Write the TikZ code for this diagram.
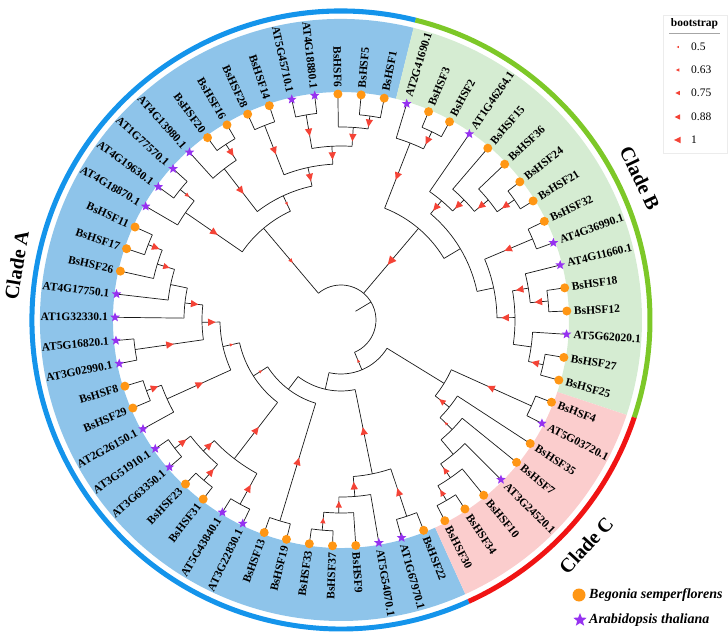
\documentclass[tikz,border=0pt]{standalone}
\usepackage{fontspec}
\setmainfont{Liberation Serif}
\usetikzlibrary{shapes.geometric}
\definecolor{shA}{RGB}{142,196,234}
\definecolor{shB}{RGB}{213,236,210}
\definecolor{shC}{RGB}{251,205,205}
\definecolor{rgA}{RGB}{20,148,235}
\definecolor{rgB}{RGB}{125,200,40}
\definecolor{rgC}{RGB}{240,20,20}
\definecolor{trired}{RGB}{244,67,54}
\definecolor{dotor}{RGB}{255,150,20}
\definecolor{stpur}{RGB}{150,50,240}
\tikzset{
  branch/.style={line width=0.7pt, draw=black!90},
  tri/.style={fill=trired},
  lab/.style={font=\fontsize{11.5}{12}\selectfont\bfseries, inner sep=0pt, text height=7.6pt, text depth=0pt},
  tipdot/.style={circle, fill=dotor, inner sep=0pt, minimum size=9pt},
  tipstar/.style={star, star points=5, star point ratio=2.3, fill=stpur, inner sep=0pt, minimum size=10pt},
  cladelab/.style={font=\fontsize{20}{22}\selectfont\bfseries, inner sep=0pt},
  leglab/.style={font=\fontsize{11.5}{12}\selectfont, inner sep=0pt, anchor=west},
  spelab/.style={font=\fontsize{14}{16}\selectfont\bfseries\itshape, inner sep=0pt, anchor=west},
}
\newcommand\TrTri[3]{\fill[tri, shift={(#1:#2pt)}, rotate=#1] (-1.3*#3,0) -- (0.85*#3,1.05*#3) -- (0.85*#3,-1.05*#3) -- cycle;}
\newcommand\TrNode[5]{%
  \pgfmathsetmacro\TrA{73.1-5.902*(#2)}%
  \pgfmathsetmacro\TrM{(#3+#4)/2}%
  \coordinate (#1) at (\TrA:#3pt);%
  \coordinate (#1-b) at (\TrA:#4pt);%
  \draw[branch] (#1-b) -- (#1);%
  \ifdim #5pt>0pt \TrTri{\TrA}{\TrM}{#5}\fi}
\newcommand\TrArc[3]{%
  \pgfmathsetmacro\TrAa{73.1-5.902*(#2)}%
  \pgfmathsetmacro\TrAb{73.1-5.902*(#3)}%
  \draw[branch] (\TrAa:#1pt) arc[start angle=\TrAa, end angle=\TrAb, radius=#1pt];}
\newcommand\TrLeaf[4]{%
  \pgfmathsetmacro\TrA{73.1-5.902*(#1)}%
  \coordinate (l#1-b) at (\TrA:#2pt);%
  \coordinate (l#1) at (\TrA:226pt);%
  \draw[branch] (l#1-b) -- (l#1);%
  \if#3d\node[tipdot] (tip#1) at (l#1) {};\else\node[tipstar] (tip#1) at (l#1) {};\fi
  \pgfmathtruncatemacro\TrSide{cos(\TrA)>0 ? 1 : 0}%
  \ifnum\TrSide=1
    \node[lab, rotate=\TrA, anchor=west] (lab#1) at (\TrA:233pt) {#4};%
  \else
    \pgfmathsetmacro\TrB{\TrA+180}%
    \node[lab, rotate=\TrB, anchor=east] (lab#1) at (\TrA:233pt) {#4};%
  \fi}
\newcommand\TrSector[5]{%
  \pgfmathsetmacro\TrAa{73.1-5.902*(#2)}%
  \pgfmathsetmacro\TrAb{73.1-5.902*(#3)}%
  \fill[#1] (\TrAa:#4pt) arc[start angle=\TrAa, end angle=\TrAb, radius=#4pt] -- (\TrAb:#5pt) arc[start angle=\TrAb, end angle=\TrAa, radius=#5pt] -- cycle;}
\newcommand\LgTri[3]{\fill[tri, shift={(#1,#2)}] (-1.3*#3,0) -- (0.85*#3,1.05*#3) -- (0.85*#3,-1.05*#3) -- cycle;}
\begin{document}
\begin{tikzpicture}[x=1pt, y=1pt]
\useasboundingbox (-341,-322) rectangle (387,320);
% clade shading
\TrSector{shA}{23.5}{60.5}{228}{301}
\TrSector{shB}{-0.5}{15.5}{228}{301}
\TrSector{shC}{15.5}{23.5}{228}{301}
% clade rings
\TrSector{rgA}{23.5}{60.5}{306.5}{311.5}
\TrSector{rgB}{-0.5}{15.5}{306.5}{311.5}
\TrSector{rgC}{15.5}{23.5}{306.5}{311.5}
% root
\coordinate (root) at (31:35pt);
\coordinate (root-b) at (31:17pt);
\draw[branch] (root-b) -- (root);
\TrArc{35}{51.328125}{84.7724609}
% ---- Clade B
\TrNode{Q}{3.953125}{120}{35}{4}
\TrArc{120}{0.75}{7.15625}
\TrNode{P1}{0.75}{190}{120}{3.5}
\TrArc{190}{0}{1.5}
\TrNode{n12}{1.5}{209}{190}{3.5}
\TrArc{209}{1}{2}
\TrNode{Q2}{7.15625}{139}{120}{0}
\TrArc{139}{3.9375}{10.375}
\TrNode{X}{3.9375}{156}{139}{3.5}
\TrArc{156}{3}{4.875}
\TrNode{Y}{4.875}{172}{156}{3.5}
\TrArc{172}{4}{5.75}
\TrNode{B5}{5.75}{190}{172}{3.5}
\TrArc{190}{5}{6.5}
\TrNode{n67}{6.5}{211}{190}{3.5}
\TrArc{211}{6}{7}
\TrNode{V}{10.375}{156}{139}{0}
\TrArc{156}{8.5}{12.25}
\TrNode{n89}{8.5}{208}{156}{3.5}
\TrArc{208}{8}{9}
\TrNode{S}{12.25}{174}{156}{3.5}
\TrArc{174}{10.75}{13.75}
\TrNode{T}{10.75}{190}{174}{3.5}
\TrArc{190}{10}{11.5}
\TrNode{n1112}{11.5}{208}{190}{3.5}
\TrArc{208}{11}{12}
\TrNode{R}{13.75}{192}{174}{0}
\TrArc{192}{13}{14.5}
\TrNode{n1415}{14.5}{207}{192}{3.5}
\TrArc{207}{14}{15}
% ---- Clade C and lower Clade A
\TrNode{L}{23.7724609}{54}{35}{1.5}
\TrArc{54}{17.734375}{29.8105469}
\TrNode{CN}{17.734375}{121}{54}{0}
\TrArc{121}{16.5}{18.96875}
\TrNode{n1617}{16.5}{209}{121}{3.5}
\TrArc{209}{16}{17}
\TrNode{C2}{18.96875}{139}{121}{3}
\TrArc{139}{18}{19.9375}
\TrNode{C3}{19.9375}{156}{139}{1.5}
\TrArc{156}{19}{20.875}
\TrNode{C4}{20.875}{175}{156}{0}
\TrArc{175}{20}{21.75}
\TrNode{C5}{21.75}{192}{175}{3}
\TrArc{192}{21}{22.5}
\TrNode{C6}{22.5}{209}{192}{3}
\TrArc{209}{22}{23}
\TrNode{M}{29.8105469}{71}{54}{0}
\TrArc{71}{25.6875}{33.9335938}
\TrNode{N25}{25.6875}{157}{71}{3.5}
\TrArc{157}{24.5}{26.875}
\TrNode{n2425}{24.5}{207}{157}{3.5}
\TrArc{207}{24}{25}
\TrNode{N26}{26.875}{177}{157}{3.5}
\TrArc{177}{26}{27.75}
\TrNode{N27}{27.75}{193}{177}{3}
\TrArc{193}{27}{28.5}
\TrNode{n2829}{28.5}{211}{193}{2.5}
\TrArc{211}{28}{29}
\TrNode{M2}{33.9335938}{87}{71}{0}
\TrArc{87}{30.5}{37.3671875}
\TrNode{n3031}{30.5}{210}{87}{3.5}
\TrArc{210}{30}{31}
\TrNode{K}{37.3671875}{104}{87}{1.5}
\TrArc{104}{34}{40.734375}
\TrNode{J}{34}{175}{104}{3.5}
\TrArc{175}{32.5}{35.5}
\TrNode{n3233}{32.5}{210}{175}{3.5}
\TrArc{210}{32}{33}
\TrNode{I}{35.5}{190}{175}{3.5}
\TrArc{190}{34.5}{36.5}
\TrNode{n3435}{34.5}{211}{190}{3.5}
\TrArc{211}{34}{35}
\TrNode{n3637}{36.5}{210}{190}{3.5}
\TrArc{210}{36}{37}
\TrNode{K2}{40.734375}{121}{104}{1.5}
\TrArc{121}{38.75}{42.71875}
\TrNode{K4}{38.75}{191}{121}{3.5}
\TrArc{191}{38}{39.5}
\TrNode{n3940}{39.5}{207}{191}{3.5}
\TrArc{207}{39}{40}
\TrNode{K3}{42.71875}{139}{121}{3.5}
\TrArc{139}{41.5}{43.9375}
\TrNode{n4142}{41.5}{208}{139}{3.5}
\TrArc{208}{41}{42}
\TrNode{K5}{43.9375}{157}{139}{3.5}
\TrArc{157}{43}{44.875}
\TrNode{K6}{44.875}{174}{157}{0}
\TrArc{174}{44}{45.75}
\TrNode{K7}{45.75}{192}{174}{3}
\TrArc{192}{45}{46.5}
\TrNode{n4647}{46.5}{207}{192}{3.5}
\TrArc{207}{46}{47}
% ---- upper Clade A
\TrNode{A131}{51.328125}{120}{35}{2}
\TrArc{120}{48.75}{53.90625}
\TrNode{A2}{48.75}{189}{120}{3.5}
\TrArc{189}{48}{49.5}
\TrNode{n4950}{49.5}{207}{189}{2}
\TrArc{207}{49}{50}
\TrNode{E}{53.90625}{137}{120}{1.5}
\TrArc{137}{51.75}{56.0625}
\TrNode{D}{51.75}{191}{137}{3.5}
\TrArc{191}{51}{52.5}
\TrNode{n5253}{52.5}{210}{191}{3.5}
\TrArc{210}{52}{53}
\TrNode{F}{56.0625}{156}{137}{3.5}
\TrArc{156}{54.5}{57.625}
\TrNode{n5455}{54.5}{209}{156}{3.5}
\TrArc{209}{54}{55}
\TrNode{G}{57.625}{174}{156}{3.5}
\TrArc{174}{56.5}{58.75}
\TrNode{n5657}{56.5}{208}{174}{3.5}
\TrArc{208}{56}{57}
\TrNode{N58}{58.75}{193}{174}{3.5}
\TrArc{193}{58}{59.5}
\TrNode{n5960}{59.5}{206}{193}{3.5}
\TrArc{206}{59}{60}
% ---- leaves
\TrLeaf{0}{190}{s}{AT2G41690.1}
\TrLeaf{1}{209}{d}{BsHSF3}
\TrLeaf{2}{209}{d}{BsHSF2}
\TrLeaf{3}{156}{s}{AT1G46264.1}
\TrLeaf{4}{172}{d}{BsHSF15}
\TrLeaf{5}{190}{d}{BsHSF36}
\TrLeaf{6}{211}{d}{BsHSF24}
\TrLeaf{7}{211}{d}{BsHSF21}
\TrLeaf{8}{208}{d}{BsHSF32}
\TrLeaf{9}{208}{s}{AT4G36990.1}
\TrLeaf{10}{190}{s}{AT4G11660.1}
\TrLeaf{11}{208}{d}{BsHSF18}
\TrLeaf{12}{208}{d}{BsHSF12}
\TrLeaf{13}{192}{s}{AT5G62020.1}
\TrLeaf{14}{207}{d}{BsHSF27}
\TrLeaf{15}{207}{d}{BsHSF25}
\TrLeaf{16}{209}{d}{BsHSF4}
\TrLeaf{17}{209}{s}{AT5G03720.1}
\TrLeaf{18}{139}{d}{BsHSF35}
\TrLeaf{19}{156}{d}{BsHSF7}
\TrLeaf{20}{175}{s}{AT3G24520.1}
\TrLeaf{21}{192}{d}{BsHSF10}
\TrLeaf{22}{209}{d}{BsHSF34}
\TrLeaf{23}{209}{d}{BsHSF30}
\TrLeaf{24}{207}{d}{BsHSF22}
\TrLeaf{25}{207}{s}{AT1G67970.1}
\TrLeaf{26}{177}{s}{AT5G54070.1}
\TrLeaf{27}{193}{d}{BsHSF9}
\TrLeaf{28}{211}{d}{BsHSF37}
\TrLeaf{29}{211}{d}{BsHSF33}
\TrLeaf{30}{210}{d}{BsHSF19}
\TrLeaf{31}{210}{d}{BsHSF13}
\TrLeaf{32}{210}{s}{AT3G22830.1}
\TrLeaf{33}{210}{s}{AT5G43840.1}
\TrLeaf{34}{211}{d}{BsHSF31}
\TrLeaf{35}{211}{d}{BsHSF23}
\TrLeaf{36}{210}{s}{AT3G63350.1}
\TrLeaf{37}{210}{s}{AT3G51910.1}
\TrLeaf{38}{191}{s}{AT2G26150.1}
\TrLeaf{39}{207}{d}{BsHSF29}
\TrLeaf{40}{207}{d}{BsHSF8}
\TrLeaf{41}{208}{s}{AT3G02990.1}
\TrLeaf{42}{208}{s}{AT5G16820.1}
\TrLeaf{43}{157}{s}{AT1G32330.1}
\TrLeaf{44}{174}{s}{AT4G17750.1}
\TrLeaf{45}{192}{d}{BsHSF26}
\TrLeaf{46}{207}{d}{BsHSF17}
\TrLeaf{47}{207}{d}{BsHSF11}
\TrLeaf{48}{189}{s}{AT4G18870.1}
\TrLeaf{49}{207}{s}{AT4G19630.1}
\TrLeaf{50}{207}{s}{AT1G77570.1}
\TrLeaf{51}{191}{s}{AT4G13980.1}
\TrLeaf{52}{210}{d}{BsHSF20}
\TrLeaf{53}{210}{d}{BsHSF16}
\TrLeaf{54}{209}{d}{BsHSF28}
\TrLeaf{55}{209}{d}{BsHSF14}
\TrLeaf{56}{208}{s}{AT5G45710.1}
\TrLeaf{57}{208}{s}{AT4G18880.1}
\TrLeaf{58}{193}{d}{BsHSF6}
\TrLeaf{59}{206}{d}{BsHSF5}
\TrLeaf{60}{206}{d}{BsHSF1}
% clade labels
\node[cladelab, rotate=80.4] (cladeA) at (170.4:329pt) {Clade A};
\node[cladelab, rotate=-64.6] (cladeB) at (25.4:331pt) {Clade B};
\node[cladelab, rotate=47.4] (cladeC) at (-42.6:333pt) {Clade C};
% bootstrap legend
\draw[gray!15, fill=white] (322,305) rectangle (386,167);
\node[font=\fontsize{11.5}{12}\selectfont\bfseries, inner sep=0pt] (bstitle) at (353.5,296) {bootstrap};
\draw[gray!70, line width=0.5pt] (328,287) -- (379,287);
\LgTri{337}{273}{1.1}
\node[leglab] (bs1) at (350,273) {0.5};
\LgTri{337}{250}{1.6}
\node[leglab] (bs2) at (350,250) {0.63};
\LgTri{337}{227}{2.1}
\node[leglab] (bs3) at (350,227) {0.75};
\LgTri{337}{203}{2.6}
\node[leglab] (bs4) at (350,203) {0.88};
\LgTri{337}{180}{3.1}
\node[leglab] (bs5) at (350,180) {1};
% species legend
\node[tipdot, minimum size=13pt] (spdot) at (238,-275) {};
\node[spelab] (sp1) at (248,-275) {Begonia semperflorens};
\node[tipstar, minimum size=14pt] (spstar) at (239,-300) {};
\node[spelab] (sp2) at (248,-300) {Arabidopsis thaliana};
\end{tikzpicture}
\end{document}
